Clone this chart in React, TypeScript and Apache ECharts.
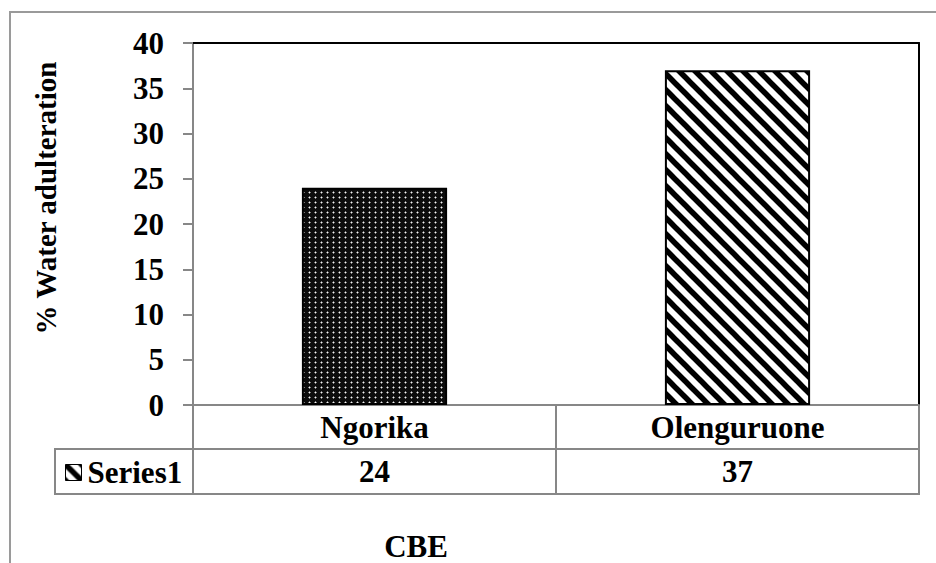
import React, { useEffect, useRef } from 'react';
import * as echarts from 'echarts';

const categories = ['Ngorika', 'Olenguruone'];
const seriesName = 'Series1';
const values = [24, 37];
const yMin = 0;
const yMax = 40;
const yInterval = 5;
const yTitle = '% Water adulteration';
const xTitle = 'CBE';

const FONT = "'Liberation Serif', 'Times New Roman', serif";
const GRAY = '#878787';
const FS = 31;

function dotPattern(): HTMLCanvasElement {
  const c = document.createElement('canvas');
  c.width = 6;
  c.height = 5;
  const g = c.getContext('2d')!;
  g.fillStyle = '#0c0c0c';
  g.fillRect(0, 0, 6, 5);
  g.fillStyle = '#7c7c7c';
  g.fillRect(3, 1, 1, 3);
  g.fillRect(2, 2, 3, 1);
  g.fillStyle = '#f4f4f4';
  g.fillRect(3, 2, 1, 1);
  return c;
}

function stripePattern(): HTMLCanvasElement {
  const s = 16;
  const c = document.createElement('canvas');
  c.width = s;
  c.height = s;
  const g = c.getContext('2d')!;
  g.fillStyle = '#ffffff';
  g.fillRect(0, 0, s, s);
  g.strokeStyle = '#000000';
  g.lineWidth = 5.5;
  for (const k of [-1, 0, 1]) {
    g.beginPath();
    g.moveTo(k * s - 3, -3);
    g.lineTo(k * s + s + 3, s + 3);
    g.stroke();
  }
  return c;
}

export default function App() {
  const ref = useRef<HTMLDivElement>(null);

  useEffect(() => {
    document.body.style.margin = '0';
    if (!ref.current) return;
    const chart = echarts.init(ref.current, null, { renderer: 'svg' });
    const dots = dotPattern();
    const stripes = stripePattern();
    const patterns = [
      { image: dots, repeat: 'repeat' },
      { image: stripes, repeat: 'repeat' },
    ];

    const textBold = { fontFamily: FONT, fontWeight: 'bold' as const, color: '#000' };

    chart.setOption({
      animation: false,
      backgroundColor: '#fff',
      grid: { left: 193, right: 17, top: 43, bottom: 158, containLabel: false },
      legend: {
        data: [seriesName],
        left: 65,
        top: 457,
        padding: 0,
        icon: 'rect',
        itemWidth: 16,
        itemHeight: 16,
        itemStyle: { borderColor: '#000', borderWidth: 1 },
        textStyle: { ...textBold, fontSize: FS, lineHeight: 30, padding: [0, 0, 0, 1] },
        selectedMode: false,
      },
      xAxis: [
        {
          type: 'category',
          data: categories,
          position: 'bottom',
          axisLine: { show: true, onZero: true, lineStyle: { color: GRAY, width: 2 } },
          axisTick: { show: true, length: 89, lineStyle: { color: GRAY, width: 2 } },
          axisLabel: {
            interval: 0,
            margin: 0,
            formatter: (v: string, i: number) => `{c|${v}}\n{c|${values[i]}}`,
            rich: { c: { ...textBold, fontSize: FS, lineHeight: 44.5 } },
          },
          splitLine: { show: false },
        },
        {
          type: 'category',
          data: categories,
          position: 'top',
          axisLine: { show: true, onZero: false, lineStyle: { color: '#000', width: 2 } },
          axisTick: { show: false },
          axisLabel: { show: false },
          splitLine: { show: false },
        },
      ],
      yAxis: [
        {
          type: 'value',
          min: yMin,
          max: yMax,
          interval: yInterval,
          position: 'left',
          axisLine: { show: true, onZero: false, lineStyle: { color: GRAY, width: 2 } },
          axisTick: { show: true, length: 10, lineStyle: { color: GRAY, width: 2 } },
          axisLabel: { ...textBold, fontSize: FS, margin: 29 },
          splitLine: { show: false },
        },
        {
          type: 'value',
          min: yMin,
          max: yMax,
          interval: yInterval,
          position: 'right',
          axisLine: { show: true, onZero: false, lineStyle: { color: '#000', width: 2 } },
          axisTick: { show: false },
          axisLabel: { show: false },
          splitLine: { show: false },
        },
      ],
      series: [
        {
          name: seriesName,
          type: 'bar',
          xAxisIndex: 0,
          yAxisIndex: 0,
          barWidth: '40%',
          z: 3,
          itemStyle: { color: patterns[1], borderColor: '#000', borderWidth: 2 },
          data: values.map((v, i) => ({
            value: v,
            itemStyle: { color: patterns[i], borderColor: '#000', borderWidth: 2 },
          })),
        },
      ],
      graphic: [
        {
          type: 'rect',
          silent: true,
          z: -1,
          shape: { x: 10, y: 12, width: 1000, height: 1000 },
          style: { fill: 'none', stroke: '#9a9a9a', lineWidth: 2 },
        },
        {
          type: 'rect',
          silent: true,
          shape: { x: 55, y: 449, width: 864, height: 45 },
          style: { fill: 'none', stroke: GRAY, lineWidth: 2 },
        },
        {
          type: 'text',
          silent: true,
          x: 46,
          y: 198,
          rotation: Math.PI / 2,
          style: {
            text: yTitle,
            fontFamily: FONT,
            fontWeight: 'bold',
            fontSize: 29,
            fill: '#000',
            align: 'center',
            verticalAlign: 'middle',
          },
        },
        {
          type: 'text',
          silent: true,
          x: 416,
          y: 546,
          style: {
            text: xTitle,
            fontFamily: FONT,
            fontWeight: 'bold',
            fontSize: FS,
            fill: '#000',
            align: 'center',
            verticalAlign: 'middle',
          },
        },
      ],
    });

    return () => chart.dispose();
  }, []);

  return <div ref={ref} style={{ width: 936, height: 563 }} />;
}
